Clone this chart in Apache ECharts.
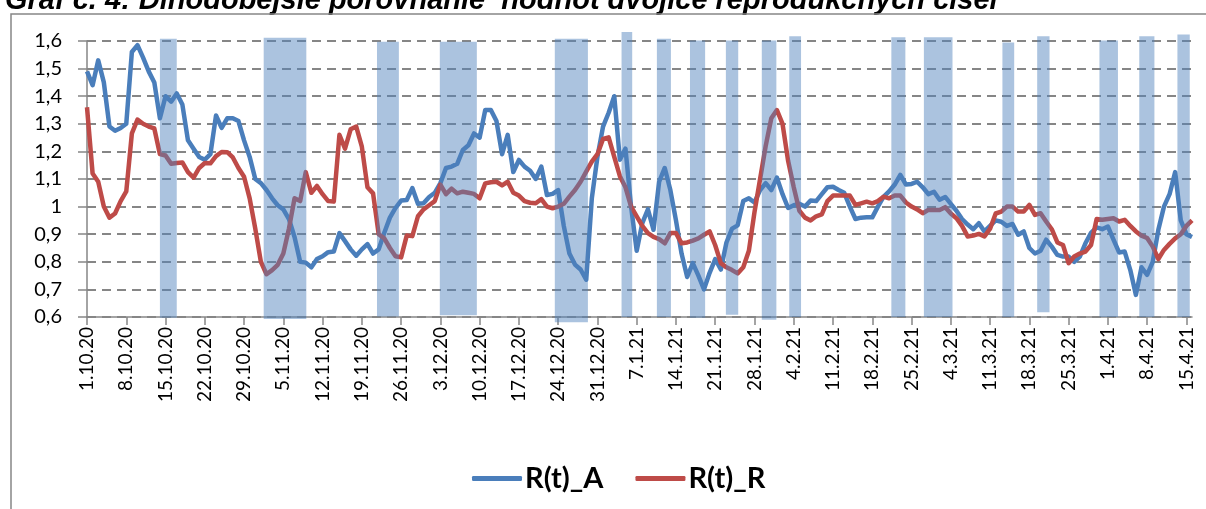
<!DOCTYPE html>
<html>
<head>
<meta charset="utf-8">
<script src="https://cdn.jsdelivr.net/npm/echarts@6/dist/echarts.min.js"></script>
<style>
  html, body { margin: 0; padding: 0; background: #fff; }
  #main { width: 1206px; height: 509px; }
</style>
</head>
<body>
<div id="main"></div>
<script>
// one point per day, 1.10.20 (day 0) .. 16.4.21 (day 197)
var tickLabels = ['1.10.20', '8.10.20', '15.10.20', '22.10.20', '29.10.20', '5.11.20', '12.11.20',
    '19.11.20', '26.11.20', '3.12.20', '10.12.20', '17.12.20', '24.12.20', '31.12.20', '7.1.21',
    '14.1.21', '21.1.21', '28.1.21', '4.2.21', '11.2.21', '18.2.21', '25.2.21', '4.3.21', '11.3.21',
    '18.3.21', '25.3.21', '1.4.21', '8.4.21', '15.4.21'];

var rtA = [
    1.49, 1.44, 1.53, 1.45, 1.29, 1.275, 1.285, 1.30, 1.56, 1.585,
    1.54, 1.49, 1.45, 1.32, 1.40, 1.38, 1.41, 1.37, 1.24, 1.21,
    1.18, 1.17, 1.19, 1.33, 1.285, 1.32, 1.32, 1.31, 1.24, 1.18,
    1.10, 1.085, 1.06, 1.03, 1.005, 0.99, 0.955, 0.89, 0.80, 0.797,
    0.78, 0.81, 0.82, 0.835, 0.837, 0.904, 0.875, 0.845, 0.822, 0.845,
    0.864, 0.83, 0.845, 0.905, 0.96, 0.995, 1.022, 1.024, 1.067, 1.01,
    1.012, 1.035, 1.05, 1.085, 1.14, 1.145, 1.155, 1.205, 1.222, 1.265,
    1.25, 1.35, 1.35, 1.31, 1.19, 1.26, 1.125, 1.169, 1.145, 1.13,
    1.10, 1.145, 1.042, 1.046, 1.06, 0.93, 0.83, 0.79, 0.772, 0.735,
    1.03, 1.18, 1.29, 1.34, 1.40, 1.17, 1.21, 1.0, 0.84, 0.94,
    0.99, 0.916, 1.09, 1.14, 1.06, 0.95, 0.83, 0.745, 0.795, 0.75,
    0.70, 0.76, 0.81, 0.772, 0.87, 0.92, 0.932, 1.02, 1.03, 1.015,
    1.06, 1.085, 1.06, 1.105, 1.045, 0.995, 1.005, 1.01, 1.0, 1.022,
    1.02, 1.045, 1.07, 1.072, 1.06, 1.05, 1.0, 0.955, 0.96, 0.961,
    0.961, 1.0, 1.035, 1.055, 1.08, 1.115, 1.08, 1.082, 1.09, 1.07,
    1.045, 1.054, 1.025, 1.035, 1.01, 0.985, 0.955, 0.935, 0.918, 0.94,
    0.91, 0.93, 0.95, 0.945, 0.93, 0.937, 0.898, 0.91, 0.85, 0.83,
    0.84, 0.88, 0.855, 0.825, 0.819, 0.819, 0.80, 0.819, 0.867, 0.905,
    0.925, 0.918, 0.928, 0.88, 0.834, 0.837, 0.77, 0.68, 0.78, 0.753,
    0.80, 0.916, 1.0, 1.045, 1.125, 0.95, 0.90, 0.89
];

var rtR = [
    1.36, 1.12, 1.09, 1.0, 0.96, 0.975, 1.02, 1.055, 1.265, 1.315,
    1.30, 1.29, 1.283, 1.19, 1.185, 1.155, 1.158, 1.16, 1.125, 1.105,
    1.14, 1.158, 1.157, 1.183, 1.198, 1.197, 1.178, 1.14, 1.108, 1.03,
    0.92, 0.80, 0.755, 0.77, 0.789, 0.83, 0.92, 1.03, 1.02, 1.125,
    1.05, 1.075, 1.045, 1.02, 1.018, 1.26, 1.21, 1.28, 1.29, 1.217,
    1.07, 1.048, 0.90, 0.885, 0.85, 0.82, 0.816, 0.895, 0.893, 0.965,
    0.99, 1.005, 1.02, 1.08, 1.045, 1.065, 1.048, 1.054, 1.05, 1.046,
    1.03, 1.084, 1.088, 1.09, 1.077, 1.09, 1.05, 1.04, 1.02, 1.014,
    1.012, 1.027, 1.0, 0.994, 1.0, 1.01, 1.036, 1.06, 1.09, 1.127,
    1.163, 1.19, 1.245, 1.251, 1.18, 1.11, 1.07, 1.0, 0.965, 0.93,
    0.904, 0.89, 0.882, 0.867, 0.904, 0.904, 0.867, 0.87, 0.877, 0.885,
    0.898, 0.91, 0.86, 0.795, 0.78, 0.77, 0.758, 0.78, 0.84, 0.98,
    1.10, 1.22, 1.32, 1.35, 1.30, 1.165, 1.07, 0.985, 0.96, 0.95,
    0.965, 0.972, 1.02, 1.04, 1.04, 1.04, 1.04, 1.006, 1.012, 1.018,
    1.012, 1.02, 1.036, 1.03, 1.04, 1.04, 1.015, 1.0, 0.99, 0.976,
    0.988, 0.988, 0.988, 0.998, 0.975, 0.958, 0.93, 0.892, 0.895, 0.901,
    0.892, 0.92, 0.975, 0.982, 1.0, 1.0, 0.982, 0.982, 1.006, 0.97,
    0.976, 0.946, 0.918, 0.87, 0.861, 0.795, 0.819, 0.83, 0.837, 0.861,
    0.955, 0.952, 0.955, 0.958, 0.946, 0.952, 0.93, 0.91, 0.895, 0.886,
    0.855, 0.81, 0.843, 0.865, 0.885, 0.9, 0.93, 0.95
];

// shaded periods: [start day, end day, top, bottom]
var bands = [
    [13.0, 16.0, 1.608, 0.597], [31.5, 39.1, 1.612, 0.593], [51.7, 55.6, 1.597, 0.602],
    [62.9, 69.5, 1.597, 0.606], [83.4, 89.3, 1.608, 0.581], [95.3, 97.2, 1.633, 0.600],
    [101.6, 104.1, 1.608, 0.600], [107.5, 110.2, 1.602, 0.597], [113.9, 116.1, 1.602, 0.608],
    [120.3, 122.9, 1.602, 0.590], [125.2, 127.3, 1.617, 0.600], [143.4, 145.9, 1.614, 0.600],
    [149.2, 154.3, 1.614, 0.600], [163.2, 165.3, 1.595, 0.600], [169.4, 171.6, 1.617, 0.617],
    [180.5, 183.8, 1.602, 0.600], [187.6, 190.3, 1.617, 0.600], [194.4, 196.6, 1.624, 0.600]
];

var titleText = 'Graf č. 4: Dlhodobejšie porovnanie  hodnôt dvojice reprodukčných čísel';

function pairs(arr) {
    return arr.map(function (v, i) { return [i, v]; });
}

var tickDays = tickLabels.map(function (l, i) { return i * 7; });
var axisGray = '#868686';

var option = {
    animation: false,
    graphic: [{
        type: 'text',
        left: 5,
        top: -14,
        style: {
            text: titleText,
            font: 'italic bold 29px "Liberation Sans", Arial, sans-serif',
            fill: '#000'
        }
    }, {
        type: 'polyline',
        shape: { points: [[11, 520], [11, 14], [1210, 14]] },
        style: { stroke: axisGray, lineWidth: 1.5, fill: null }
    }],
    grid: { left: 87, right: 14, top: 41, bottom: 192, containLabel: false },
    legend: {
        left: 467,
        top: 459,
        itemWidth: 50,
        itemHeight: 5,
        itemGap: 32,
        icon: 'roundRect',
        data: ['R(t)_A', 'R(t)_R'],
        textStyle: { fontFamily: 'Lato', fontWeight: 'bold', fontSize: 29, color: '#000', padding: [0, 0, 0, -2] }
    },
    xAxis: {
        type: 'value',
        min: 0,
        max: 197,
        interval: 7,
        splitLine: { show: false },
        axisLine: { lineStyle: { color: axisGray, width: 1.5 } },
        axisTick: { customValues: tickDays, length: 8, lineStyle: { color: axisGray, width: 1.5 } },
        axisLabel: {
            customValues: tickDays,
            rotate: 90,
            margin: 10,
            fontFamily: 'Lato',
            fontSize: 19,
            color: '#000',
            formatter: function (v) { return tickLabels[Math.round(v / 7)] || ''; }
        }
    },
    yAxis: {
        type: 'value',
        min: 0.6,
        max: 1.6,
        interval: 0.1,
        axisLine: { show: true, lineStyle: { color: axisGray, width: 1.5 } },
        axisTick: { show: true, length: 9, lineStyle: { color: axisGray, width: 1.5 } },
        splitLine: { lineStyle: { color: axisGray, width: 2, type: [9, 6] } },
        axisLabel: {
            margin: 25,
            fontFamily: 'Lato',
            fontSize: 20,
            color: '#000',
            formatter: function (v) { return String(Math.round(v * 10) / 10).replace('.', ','); }
        }
    },
    series: [{
        name: 'R(t)_A',
        type: 'line',
        data: pairs(rtA),
        symbol: 'none',
        color: '#4A7EBB',
        lineStyle: { width: 4.5, color: '#4A7EBB', join: 'round' },
        z: 2
    }, {
        name: 'R(t)_R',
        type: 'line',
        data: pairs(rtR),
        symbol: 'none',
        color: '#BE4B48',
        lineStyle: { width: 4.5, color: '#BE4B48', join: 'round' },
        z: 2
    }, {
        name: 'periods',
        type: 'custom',
        silent: true,
        clip: false,
        z: 5,
        data: bands,
        encode: { x: [0, 1], y: [2, 3] },
        renderItem: function (params, api) {
            var p0 = api.coord([api.value(0), api.value(2)]);
            var p1 = api.coord([api.value(1), api.value(3)]);
            return {
                type: 'rect',
                shape: { x: p0[0], y: p0[1], width: p1[0] - p0[0], height: p1[1] - p0[1] },
                style: { fill: 'rgba(79,129,189,0.48)' }
            };
        }
    }]
};

var myChart = echarts.init(document.getElementById('main'));
myChart.setOption(option);
</script>
</body>
</html>
